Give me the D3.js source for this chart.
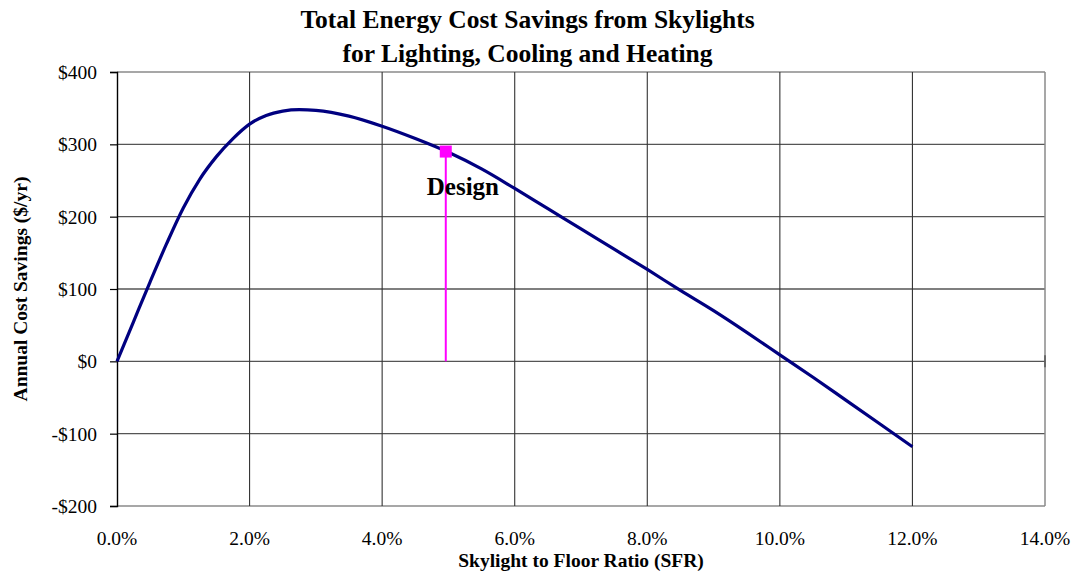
<!DOCTYPE html>
<html>
<head>
<meta charset="utf-8">
<script src="https://cdn.jsdelivr.net/npm/d3@7"></script>
<style>
  html, body { margin: 0; padding: 0; background: white; }
  text { font-family: "Liberation Serif", "Times New Roman", serif; fill: #000; }
</style>
</head>
<body>
<div id="chart"></div>
<script>
// skylight to floor ratio (%) and annual savings ($/yr)
const sfr     = [0, 0.25, 0.5, 0.75, 1.0, 1.25, 1.5, 1.75, 2.0, 2.25, 2.5, 2.75, 3.0, 3.5, 4.0, 4.5, 5.0, 5.5, 6.0, 6.5, 7.0, 7.5, 8.0, 8.5, 9.0, 9.5, 10.0, 10.5, 11.0, 11.5, 12.0];
const savings = [0, 55, 110, 163, 212, 252, 283, 308, 328, 340, 346, 348, 347, 339, 325, 308, 289, 266, 239, 211, 183, 155, 127, 98, 70, 40, 9, -22, -54, -86, -118];

const design = { sfr: 4.96, savings: 290, label: "Design" };

const xTicks = [0, 2, 4, 6, 8, 10, 12, 14];
const yTicks = [-200, -100, 0, 100, 200, 300, 400];

const titleLines = ["Total Energy Cost Savings from Skylights", "for Lighting, Cooling and Heating"];
const xTitle = "Skylight to Floor Ratio (SFR)";
const yTitle = "Annual Cost Savings ($/yr)";

const width = 1077, height = 573;
const margin = { top: 72, right: 32, bottom: 67, left: 117 };

const svg = d3.select("#chart").append("svg")
  .attr("width", width)
  .attr("height", height);

const x = d3.scaleLinear().domain([0, 14]).range([margin.left, width - margin.right]);
const y = d3.scaleLinear().domain([-200, 400]).range([height - margin.bottom, margin.top]);

// gridlines
svg.append("g")
  .selectAll("line.h")
  .data(yTicks)
  .join("line")
  .attr("x1", x(0)).attr("x2", x(14))
  .attr("y1", d => y(d)).attr("y2", d => y(d))
  .attr("stroke", d => (d === 400 || d === -200) ? "#8a8a8a" : "#555")
  .attr("stroke-width", 1.3);

svg.append("g")
  .selectAll("line.v")
  .data(xTicks.filter(d => d > 0))
  .join("line")
  .attr("x1", d => x(d)).attr("x2", d => x(d))
  .attr("y1", y(400)).attr("y2", y(-200))
  .attr("stroke", d => d === 14 ? "#8a8a8a" : "#333")
  .attr("stroke-width", d => d === 14 ? 1.5 : 1.1);

// y axis
const yAxis = svg.append("g")
  .attr("transform", `translate(${x(0)},0)`)
  .call(d3.axisLeft(y).tickValues(yTicks).tickSize(7).tickPadding(13)
    .tickFormat(d => (d < 0 ? "-$" : "$") + Math.abs(d)));
yAxis.select(".domain").attr("stroke", "#000").attr("stroke-width", 1.4);
yAxis.selectAll(".tick line").attr("stroke", "#000").attr("stroke-width", 1.2);
yAxis.selectAll("text")
  .attr("dy", "0.34em")
  .style("font-size", "19.5px")
  .style("font-family", "'Liberation Serif', serif");

// x axis sits at $0, labels low
svg.append("line")
  .attr("x1", x(14)).attr("x2", x(14))
  .attr("y1", y(0) - 6).attr("y2", y(0) + 6)
  .attr("stroke", "#555").attr("stroke-width", 1.5);

svg.append("g")
  .selectAll("text")
  .data(xTicks)
  .join("text")
  .attr("x", d => x(d))
  .attr("y", y(-200) + 39)
  .attr("text-anchor", "middle")
  .style("font-size", "19.5px")
  .text(d => d.toFixed(1) + "%");

// the curve
svg.append("path")
  .datum(sfr.map((d, i) => [d, savings[i]]))
  .attr("fill", "none")
  .attr("stroke", "#000080")
  .attr("stroke-width", 3.2)
  .attr("stroke-linejoin", "round")
  .attr("d", d3.line().x(d => x(d[0])).y(d => y(d[1])).curve(d3.curveMonotoneX));

// design marker
svg.append("line")
  .attr("x1", x(design.sfr)).attr("x2", x(design.sfr))
  .attr("y1", y(design.savings)).attr("y2", y(0))
  .attr("stroke", "#ff00ff").attr("stroke-width", 2);

svg.append("rect")
  .attr("x", x(design.sfr) - 6).attr("y", y(design.savings) - 6)
  .attr("width", 12).attr("height", 12)
  .attr("fill", "#ff00ff");

svg.append("text")
  .attr("x", x(design.sfr) - 19)
  .attr("y", y(design.savings) + 43)
  .style("font-size", "25px")
  .style("font-weight", "bold")
  .text(design.label);

// titles
svg.append("g")
  .selectAll("text")
  .data(titleLines)
  .join("text")
  .attr("x", 527.5)
  .attr("y", (d, i) => 28 + i * 34)
  .attr("text-anchor", "middle")
  .style("font-size", "25.5px")
  .style("font-weight", "bold")
  .text(d => d);

svg.append("text")
  .attr("x", (x(0) + x(14)) / 2)
  .attr("y", 567)
  .attr("text-anchor", "middle")
  .style("font-size", "19.5px")
  .style("font-weight", "bold")
  .text(xTitle);

svg.append("text")
  .attr("transform", `translate(27,${(y(400) + y(-200)) / 2}) rotate(-90)`)
  .attr("text-anchor", "middle")
  .style("font-size", "19.5px")
  .style("font-weight", "bold")
  .text(yTitle);
</script>
</body>
</html>
